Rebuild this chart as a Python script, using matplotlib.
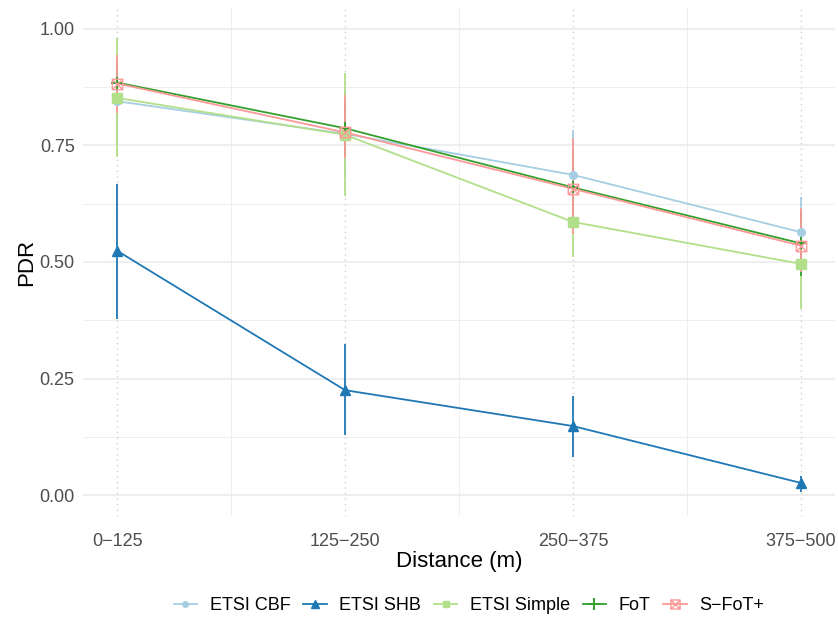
import matplotlib
matplotlib.use("Agg")
import matplotlib.pyplot as plt
from matplotlib.path import Path
from matplotlib.lines import Line2D
import numpy as np

plt.rcParams['font.family'] = ['Liberation Sans', 'DejaVu Sans']

categories = ["0\u2212125", "125\u2212250", "250\u2212375", "375\u2212500"]
series_names = ["ETSI CBF", "ETSI SHB", "ETSI Simple", "FoT", "S\u2212FoT+"]

cbf_mean = [0.845, 0.775, 0.687, 0.564]
cbf_lo = [0.75, 0.68, 0.59, 0.49]
cbf_hi = [0.94, 0.87, 0.783, 0.640]

shb_mean = [0.524, 0.225, 0.148, 0.026]
shb_lo = [0.378, 0.129, 0.082, 0.006]
shb_hi = [0.667, 0.324, 0.212, 0.041]

simple_mean = [0.852, 0.773, 0.586, 0.496]
simple_lo = [0.725, 0.642, 0.511, 0.400]
simple_hi = [0.981, 0.906, 0.660, 0.590]

fot_mean = [0.885, 0.787, 0.660, 0.540]
fot_lo = [0.84, 0.73, 0.58, 0.47]
fot_hi = [0.93, 0.843, 0.74, 0.61]

sfot_mean = [0.883, 0.778, 0.657, 0.535]
sfot_lo = [0.82, 0.723, 0.56, 0.478]
sfot_hi = [0.944, 0.858, 0.766, 0.616]

colors = ["#A6CEE3", "#1F78B4", "#B2DF8A", "#33A02C", "#FB9A99"]

# square-with-cross marker (ggplot shape 7)
sq_verts = [(-1, -1), (1, -1), (1, 1), (-1, 1), (-1, -1),
            (-1, -1), (1, 1), (-1, 1), (1, -1)]
sq_codes = [Path.MOVETO, Path.LINETO, Path.LINETO, Path.LINETO, Path.LINETO,
            Path.MOVETO, Path.LINETO, Path.MOVETO, Path.LINETO]
sqcross = Path(sq_verts, sq_codes)

markers = ["o", "^", "s", "+", sqcross]
msizes = [5.5, 7.5, 6.5, 9, 7.5]

data = [(cbf_mean, cbf_lo, cbf_hi), (shb_mean, shb_lo, shb_hi),
        (simple_mean, simple_lo, simple_hi), (fot_mean, fot_lo, fot_hi),
        (sfot_mean, sfot_lo, sfot_hi)]

fig = plt.figure(figsize=(8.38, 6.17), dpi=100)
ax = fig.add_axes([83 / 838, 101 / 617, 752 / 838, 508 / 617])

x = np.arange(len(categories))
ax.set_xlim(-0.15, 3.15)
ax.set_ylim(-0.045, 1.045)

# grid
for v in [0.125, 0.375, 0.625, 0.875]:
    ax.axhline(v, color="#EBEBEB", lw=0.6, zorder=0)
for v in [0, 0.25, 0.5, 0.75, 1.0]:
    ax.axhline(v, color="#EBEBEB", lw=1.2, zorder=0)
for v in [0.5, 1.5, 2.5]:
    ax.axvline(v, color="#EBEBEB", lw=0.6, zorder=0)
for v in x:
    ax.axvline(v, color="#D0D0D0", lw=1.0, ls=(0, (1, 3)), zorder=0)

LW = 1.3
handles = []
for i, ((m, lo, hi), c) in enumerate(zip(data, colors)):
    ax.vlines(x, lo, hi, color=c, lw=LW, zorder=2 + i * 0.1)
for i, ((m, lo, hi), c) in enumerate(zip(data, colors)):
    ax.plot(x, m, color=c, lw=LW, zorder=3 + i * 0.1)
    mk = markers[i]
    if mk == "+":
        ax.plot(x, m, ls="none", marker="+", ms=msizes[i], mew=1.4, color=c, zorder=4 + i * 0.1)
    elif mk is sqcross:
        ax.plot(x, m, ls="none", marker=mk, ms=msizes[i], mew=1.0, mfc="none", mec=c, zorder=4 + i * 0.1)
    else:
        ax.plot(x, m, ls="none", marker=mk, ms=msizes[i], color=c, mec=c, zorder=4 + i * 0.1)
    if mk is sqcross:
        h = Line2D([], [], color=c, lw=LW, marker=mk, ms=msizes[i] - 1, mew=1.0, mfc="none", mec=c)
    elif mk == "+":
        h = Line2D([], [], color=c, lw=LW, marker=mk, ms=msizes[i], mew=1.4)
    else:
        h = Line2D([], [], color=c, lw=LW, marker=mk, ms=msizes[i] - 1.5, mec=c)
    handles.append(h)

ax.set_xticks(x)
ax.set_xticklabels(categories)
ax.set_yticks([0, 0.25, 0.5, 0.75, 1.0])
ax.set_yticklabels(["0.00", "0.25", "0.50", "0.75", "1.00"])
ax.tick_params(axis="y", length=0, labelsize=13, colors="#4D4D4D", pad=6)
ax.tick_params(axis="x", length=0, labelsize=13, colors="#4D4D4D", pad=12)
for s in ax.spines.values():
    s.set_visible(False)
ax.set_facecolor("white")

ax.set_xlabel("Distance (m)", fontsize=16, labelpad=1)
ax.set_ylabel("PDR", fontsize=16, labelpad=2)

fig.legend(handles, series_names, loc="center", bbox_to_anchor=(469 / 838, 11 / 617),
           ncol=5, frameon=False, fontsize=13, handlelength=1.3, columnspacing=0.7,
           handletextpad=0.7)

fig.savefig("out.png", dpi=100)
